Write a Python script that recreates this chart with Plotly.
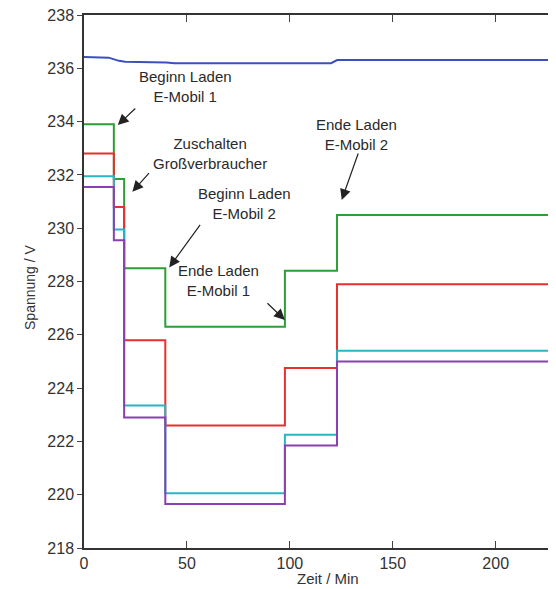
import plotly.graph_objects as go

# ---- data ----
t_steps = [0, 14.5, 19.5, 39.5, 97.6, 122.9, 229.3]
u_green = [233.9, 231.85, 228.5, 226.3, 228.4, 230.5, 230.5]
u_red = [232.8, 230.8, 225.8, 222.6, 224.75, 227.9, 227.9]
u_cyan = [231.95, 229.95, 223.35, 220.05, 222.25, 225.4, 225.4]
u_purple = [231.55, 229.55, 222.9, 219.65, 221.85, 225.0, 225.0]

t_blue = [0, 12, 17, 20, 40, 44, 97, 120, 123, 229.3]
u_blue = [236.42, 236.4, 236.28, 236.25, 236.22, 236.19, 236.19, 236.19, 236.31, 236.31]

x_ticks = [0, 50, 100, 150, 200]
y_ticks = [218, 220, 222, 224, 226, 228, 230, 232, 234, 236, 238]

fig = go.Figure()
fig.add_trace(go.Scatter(x=t_blue, y=u_blue, mode="lines",
                         line=dict(color="#3b4fbf", width=2)))
for vals, col in [(u_green, "#2e9e35"), (u_red, "#e8302e"),
                  (u_cyan, "#27b6c4"), (u_purple, "#8a40b0")]:
    fig.add_trace(go.Scatter(x=t_steps, y=vals, mode="lines",
                             line=dict(color=col, width=2, shape="hv")))

txt_font = dict(family="Liberation Sans, Arial", size=15, color="#2a2a2a")

labels = [
    ("Beginn Laden<br>E-Mobil 1", 49.5, 235.3),
    ("Zuschalten<br>Großverbraucher", 61.2, 232.82),
    ("Beginn Laden<br>E-Mobil 2", 78.2, 230.93),
    ("Ende Laden<br>E-Mobil 1", 65.2, 228.03),
    ("Ende Laden<br>E-Mobil 2", 132.4, 233.53),
]
for text, x, y in labels:
    fig.add_annotation(x=x, y=y, text=text, showarrow=False, font=txt_font,
                       xanchor="center", yanchor="middle")

arrows = [
    (16.4, 233.87, 19, -18),
    (23.5, 231.37, 18, -20),
    (41.4, 228.53, 32, -44),
    (97.6, 226.56, -19, -18),
    (125.2, 231.06, 17, -48),
]
for x, y, ax, ay in arrows:
    fig.add_annotation(x=x, y=y, ax=ax, ay=ay, text="", showarrow=True,
                       arrowhead=2, arrowsize=1.8, arrowwidth=1.2,
                       arrowcolor="#222222")

fig.add_annotation(text="Zeit / Min", xref="paper", yref="paper",
                   x=0.517, y=-0.0769, xanchor="center", yanchor="bottom",
                   showarrow=False,
                   font=dict(family="Liberation Sans, Arial", size=15, color="#333333"))

fig.add_annotation(text="Spannung / V", xref="paper", yref="paper",
                   x=-0.1144, y=0.4897, xanchor="center", yanchor="middle",
                   textangle=-90, showarrow=False,
                   font=dict(family="Liberation Sans, Arial", size=14, color="#333333"))

# the page body adds an 8px offset, so the figure is 8px smaller
fig.update_layout(
    width=548, height=581,
    margin=dict(l=76, r=0, t=7, b=41),
    paper_bgcolor="white", plot_bgcolor="white",
    showlegend=False,
    font=dict(family="Liberation Sans, Arial", size=16, color="#333333"),
)
fig.update_xaxes(range=[0, 229.3], tickvals=x_ticks, ticks="inside", ticklen=7,
                 showline=True, linecolor="#333333", linewidth=1.5,
                 mirror="ticks", showgrid=False, zeroline=False,
                 ticklabeloverflow="allow",
                 tickfont=dict(size=16, color="#333333"))
fig.update_yaxes(range=[218, 238], tickvals=y_ticks, ticks="outside", ticklen=5,
                 showline=True, linecolor="#333333", linewidth=1.5,
                 showgrid=False, zeroline=False,
                 ticklabeloverflow="allow",
                 tickfont=dict(size=16, color="#333333"))

fig.write_html("out.html")
